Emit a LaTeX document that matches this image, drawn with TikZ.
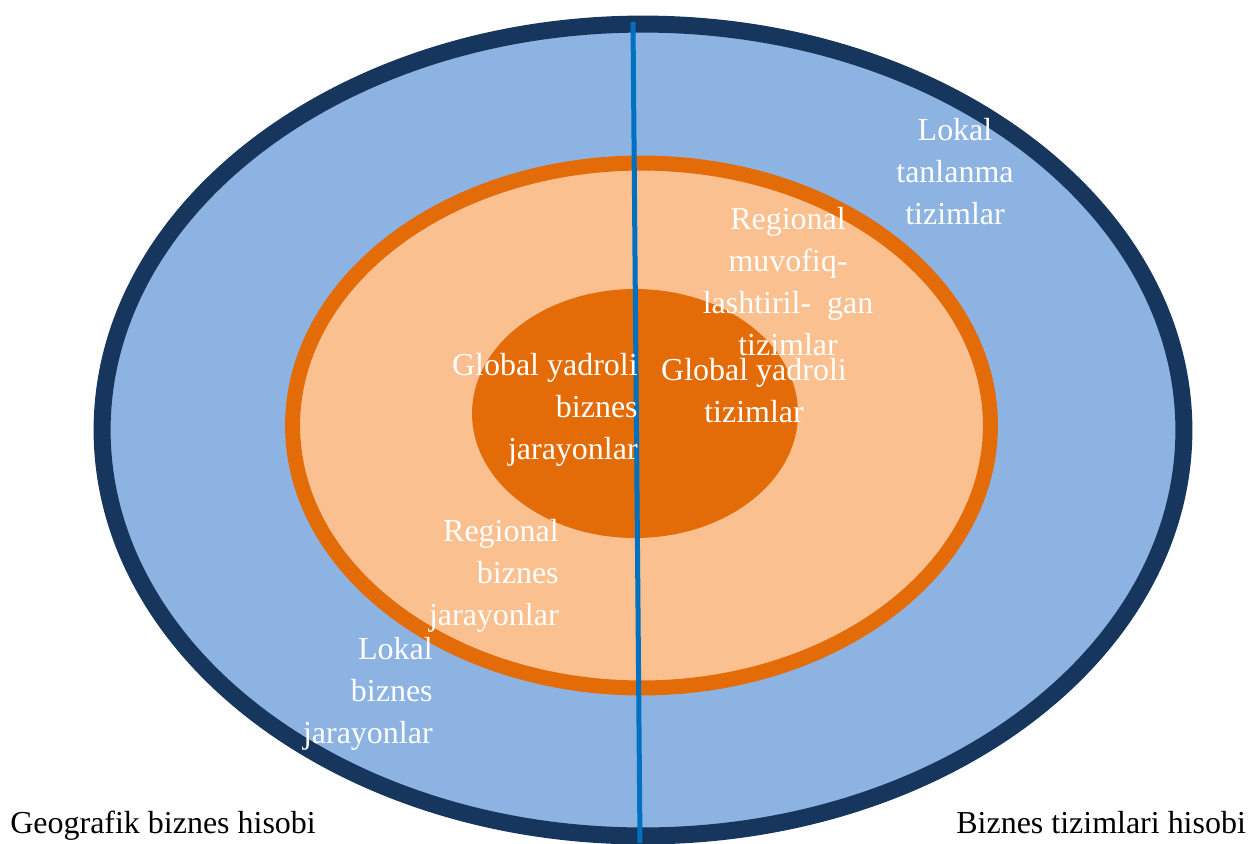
\documentclass[tikz,border=0pt]{standalone}
\usepackage{fontspec}
\setmainfont{Liberation Serif}
\usepackage{tikz}
\usetikzlibrary{shapes.geometric}
\definecolor{navy}{HTML}{17365D}
\definecolor{sky}{HTML}{8DB3E2}
\definecolor{peach}{HTML}{FAC090}
\definecolor{rust}{HTML}{E36C09}
\definecolor{axisblue}{HTML}{0070C0}

\begin{document}
\begin{tikzpicture}[x=0.02cm, y=-0.02cm, ring/.style={ellipse, draw, inner sep=0pt}, lab/.style={text=white, inner sep=0pt, font=\fontsize{18.2}{23.9}\selectfont}]
\path[use as bounding box] (0,0) rectangle (1248,843);
\node[ring, fill=sky, draw=navy, line width=0.34cm, minimum width=21.64cm, minimum height=16.24cm] (Outer) at (643,430) {};
\node[ring, fill=peach, draw=rust, line width=0.3cm, minimum width=13.96cm, minimum height=10.5cm] (Mid) at (641.5,425.5) {};
\node[ring, fill=rust, draw=none, minimum width=6.52cm, minimum height=4.98cm] (Core) at (635,413.5) {};
\coordinate (Top) at (633,22);
\coordinate (Bot) at (640,843);
\draw[axisblue, line width=0.1cm] (Top) -- (Bot);
\node[lab, anchor=base east, align=right] (GlobalP) at (638,459) {Global yadroli\\biznes\\jarayonlar};
\node[lab, anchor=base, align=center] (GlobalS) at (754,422) {Global yadroli\\tizimlar};
\node[lab, anchor=base, align=center] (RegionS) at (788,355) {Regional\\muvofiq-\\lashtiril-\ \ gan\\tizimlar};
\node[lab, anchor=base, align=center] (LocalS) at (955,224) {Lokal\\tanlanma\\tizimlar};
\node[lab, anchor=base east, align=right] (RegionP) at (559,625) {Regional\\biznes\\jarayonlar};
\node[lab, anchor=base east, align=right] (LocalP) at (433,743) {Lokal\\biznes\\jarayonlar};
\node[lab, text=black, anchor=base west] (GeoAcc) at (10,833) {Geografik biznes hisobi};
\node[lab, text=black, anchor=base west] (SysAcc) at (956,833) {Biznes tizimlari hisobi};
\end{tikzpicture}
\end{document}
